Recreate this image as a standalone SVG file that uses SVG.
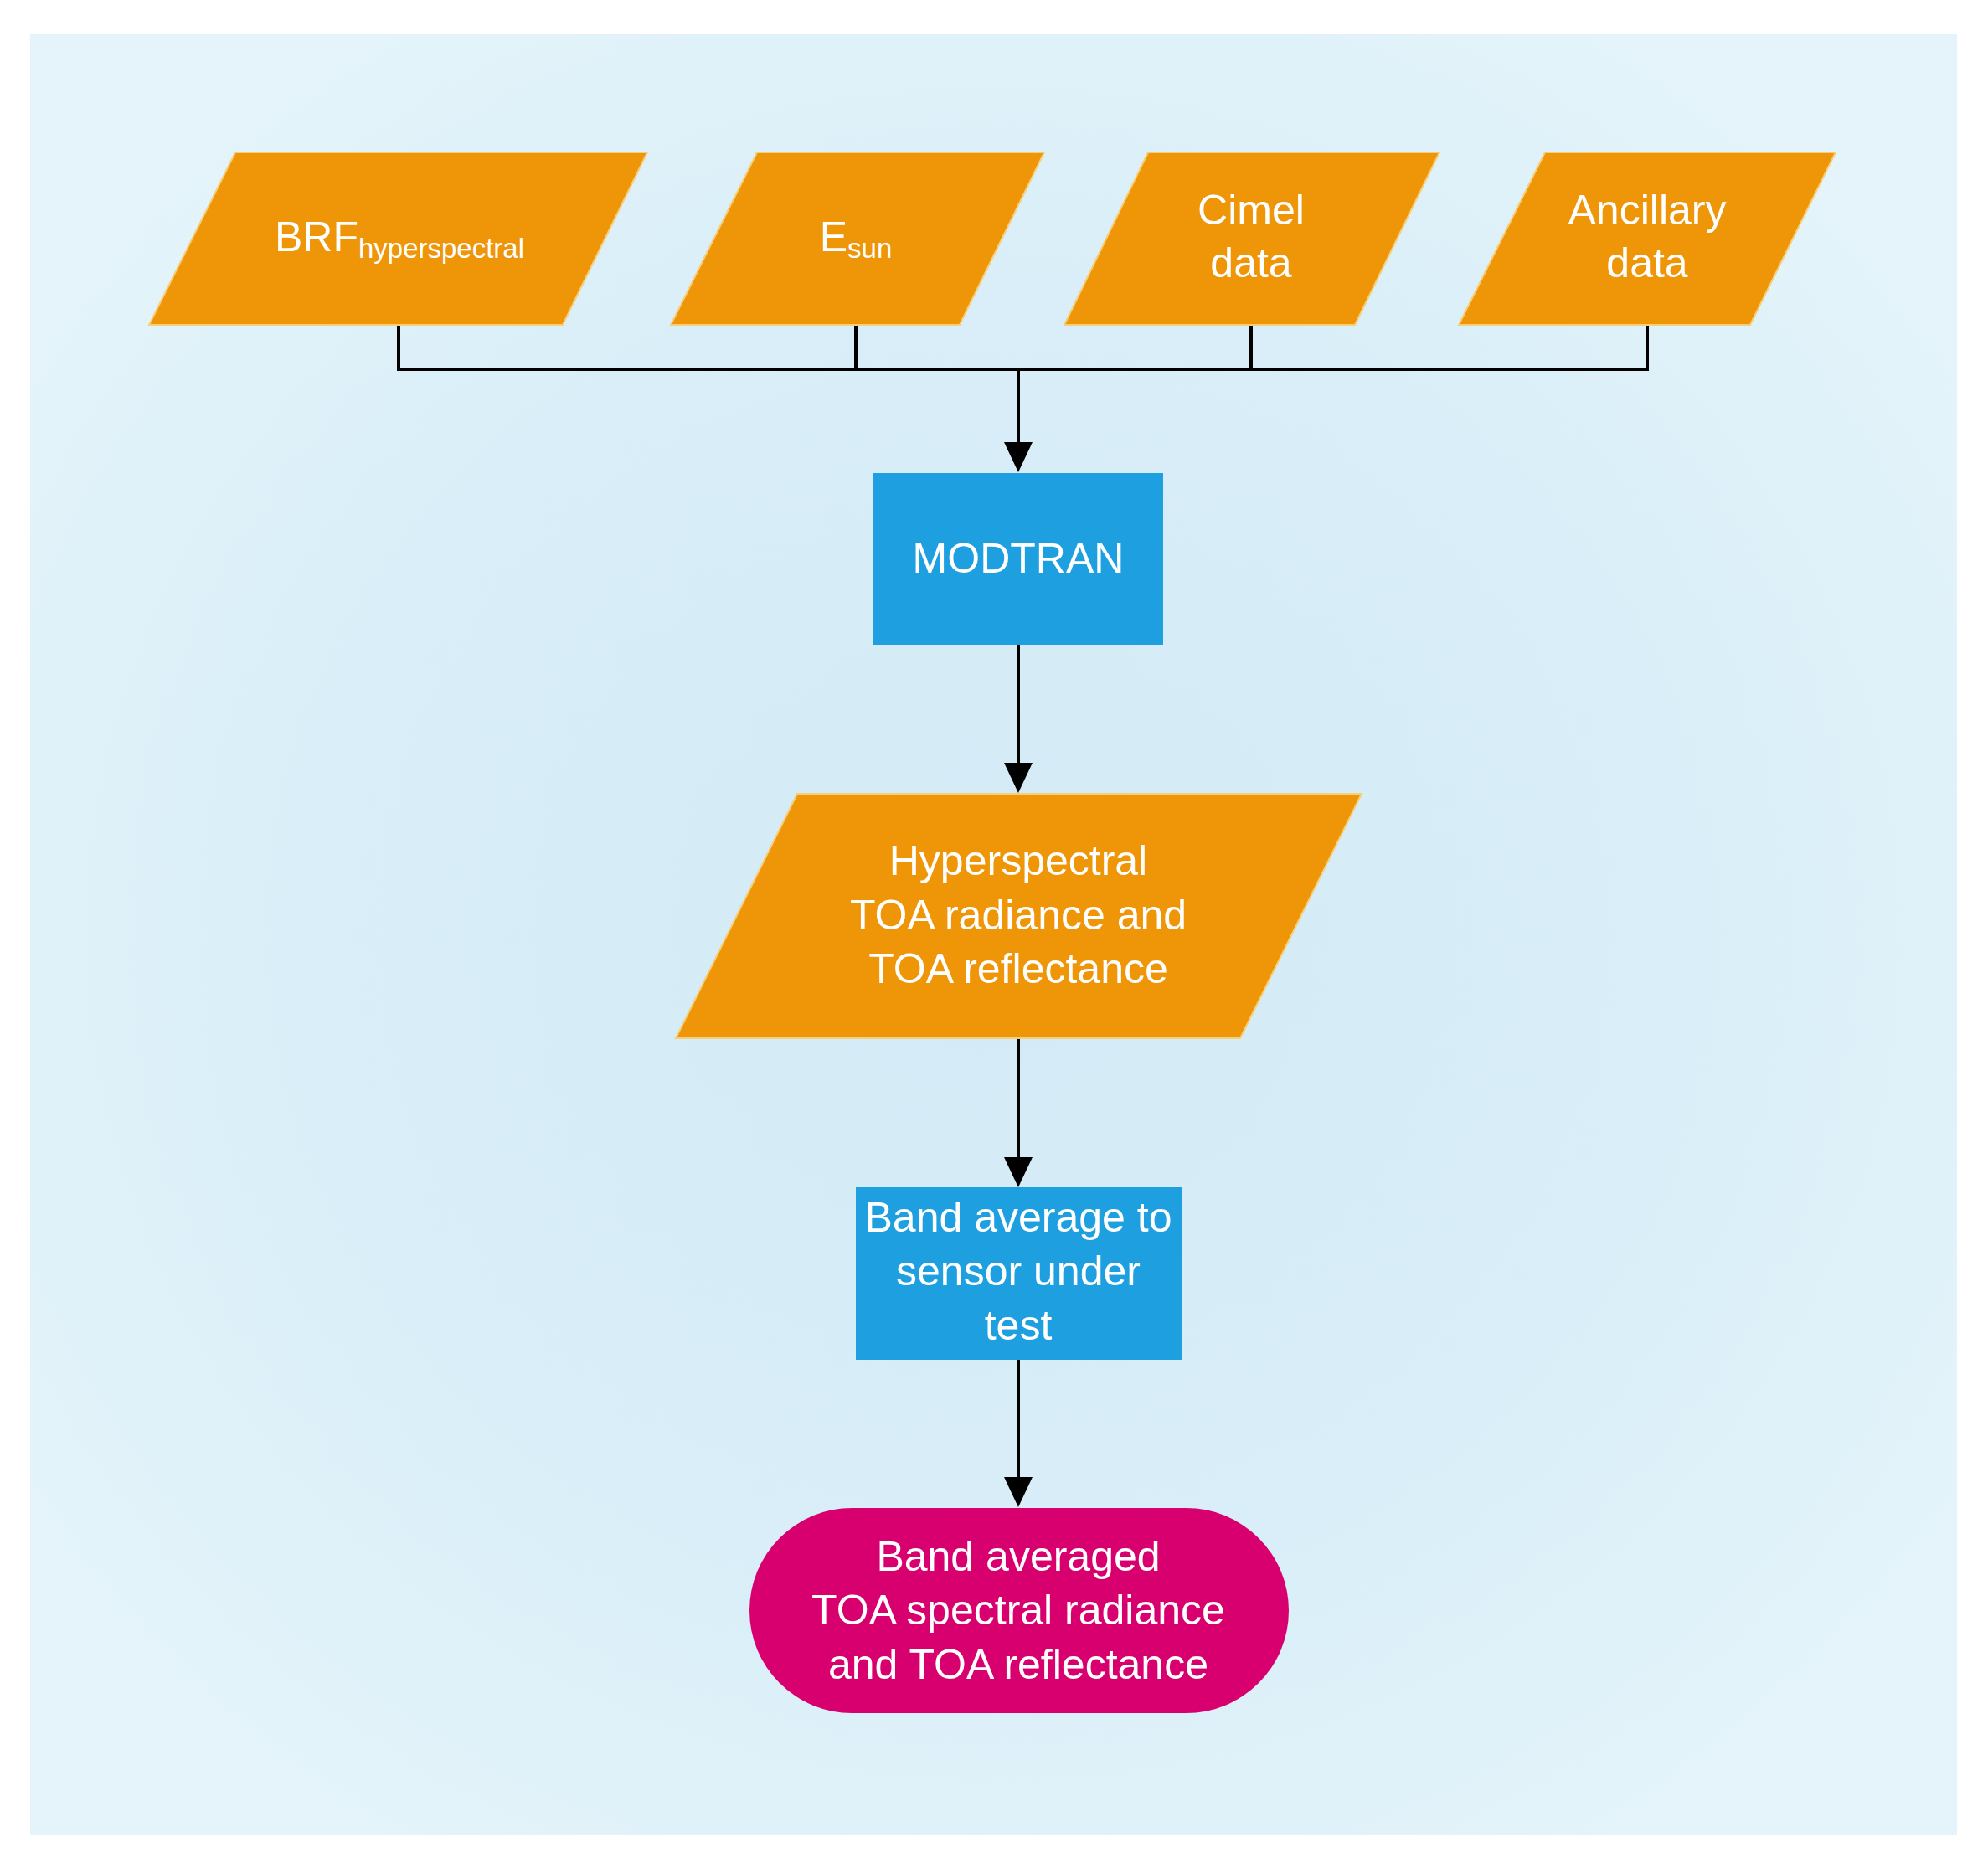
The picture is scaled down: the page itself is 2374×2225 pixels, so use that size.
<svg xmlns="http://www.w3.org/2000/svg" width="2374" height="2225" viewBox="0 0 2374 2225">
<defs>
<radialGradient id="bg" cx="0.5" cy="0.5" r="0.6">
<stop offset="0" stop-color="#d3eaf6"/>
<stop offset="0.6" stop-color="#d9eef8"/>
<stop offset="1" stop-color="#e4f4fa"/>
</radialGradient>
<marker id="arr" markerUnits="userSpaceOnUse" markerWidth="38" markerHeight="34" refX="26" refY="17" orient="auto" viewBox="0 0 38 34">
<path d="M0,0 L36,17 L0,34 Z" fill="#000"/>
</marker>
<style>
.io{fill:#ee9508;stroke:#f6cf7a;stroke-width:2}
.proc{fill:#1ea0e0}
.term{fill:#d7006e}
.t{font-family:"Liberation Sans",Arial,sans-serif;font-size:50px;fill:#fff;text-anchor:middle}
.sub{font-size:33px}
.con{fill:none;stroke:#000;stroke-width:4}
</style>
</defs>
<rect x="0" y="0" width="2374" height="2225" fill="#fff"/>
<rect x="36" y="41" width="2301" height="2150" fill="url(#bg)"/>

<g id="connectors">
<polyline class="con" points="476,388 476,441 1967,441 1967,388"/>
<line class="con" x1="1022" y1="388" x2="1022" y2="441"/>
<line class="con" x1="1494" y1="388" x2="1494" y2="441"/>
<line class="con" x1="1216" y1="441" x2="1216" y2="554" marker-end="url(#arr)"/>
<line class="con" x1="1216" y1="770" x2="1216" y2="937" marker-end="url(#arr)"/>
<line class="con" x1="1216" y1="1240" x2="1216" y2="1408" marker-end="url(#arr)"/>
<line class="con" x1="1216" y1="1624" x2="1216" y2="1790" marker-end="url(#arr)"/>
</g>

<g id="brf">
<polygon class="io" points="281,182 773,182 672,388 178,388"/>
<text class="t" x="477" y="300">BRF<tspan class="sub" dy="8">hyperspectral</tspan></text>
</g>
<g id="esun">
<polygon class="io" points="904,182 1247,182 1146,388 801,388"/>
<text class="t" x="1022" y="300">E<tspan class="sub" dy="8">sun</tspan></text>
</g>
<g id="cimel">
<polygon class="io" points="1371,182 1719,182 1618,388 1271,388"/>
<text class="t" x="1494" y="268">Cimel</text>
<text class="t" x="1494" y="331">data</text>
</g>
<g id="ancillary">
<polygon class="io" points="1845,182 2192,182 2090,388 1742,388"/>
<text class="t" x="1967" y="268">Ancillary</text>
<text class="t" x="1967" y="331">data</text>
</g>
<g id="modtran">
<rect class="proc" x="1043" y="565" width="346" height="205"/>
<text class="t" x="1216" y="684">MODTRAN</text>
</g>
<g id="hyper">
<polygon class="io" points="952,948 1626,948 1481,1240 807,1240"/>
<text class="t" x="1216" y="1045">Hyperspectral</text>
<text class="t" x="1216" y="1110">TOA radiance and</text>
<text class="t" x="1216" y="1174">TOA reflectance</text>
</g>
<g id="bandavg">
<rect class="proc" x="1022" y="1418" width="389" height="206"/>
<text class="t" x="1216" y="1471">Band average to</text>
<text class="t" x="1216" y="1535">sensor under</text>
<text class="t" x="1216" y="1600">test</text>
</g>
<g id="result">
<rect class="term" x="895" y="1801" width="644" height="245" rx="122.5" ry="122.5"/>
<text class="t" x="1216" y="1876">Band averaged</text>
<text class="t" x="1216" y="1940">TOA spectral radiance</text>
<text class="t" x="1216" y="2005">and TOA reflectance</text>
</g>
</svg>
